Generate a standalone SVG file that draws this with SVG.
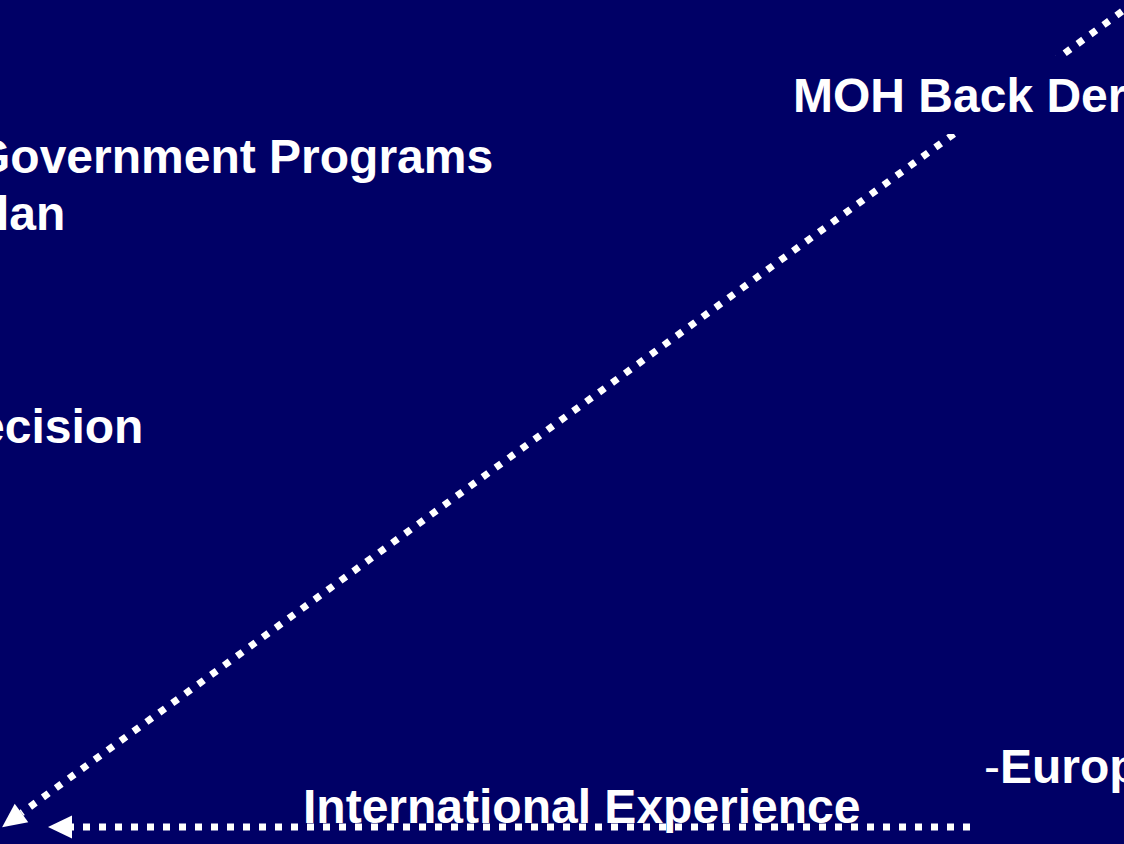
<svg xmlns="http://www.w3.org/2000/svg" width="1124" height="844" viewBox="0 0 1124 844">
<style>
.t{font-family:"Liberation Sans",Arial,sans-serif;font-weight:bold;font-size:48px;fill:#ffffff}
.r{font-weight:normal}
.c{fill:none;stroke:#ffffff;stroke-width:7;stroke-dasharray:7 9}
</style>
<defs>
<marker id="ah" markerUnits="userSpaceOnUse" markerWidth="25" markerHeight="24" refX="0" refY="11.5" orient="auto" overflow="visible">
<path d="M0,0 L24,11.5 L0,23 Z" fill="#ffffff"/>
</marker>
</defs>
<rect width="1124" height="844" fill="#000066"/>
<g id="connectors">
<path class="c" d="M1135,2 L21.5,813" marker-end="url(#ah)"/>
<path class="c" d="M970,827 L72,827" marker-end="url(#ah)"/>
</g>
<g id="moh">
<rect x="780" y="56" width="344" height="78" fill="#000066"/>
<text class="t" x="793" y="112">MOH Back Der</text>
</g>
<g id="government">
<text class="t" x="-27" y="173">Government Programs</text>
<text class="t" x="-4" y="230">lan</text>
</g>
<g id="decision">
<text class="t" x="-22" y="443">ecision</text>
</g>
<g id="europe">
<text class="t" x="984" y="783"><tspan class="r">-</tspan>Europ</text>
</g>
<g id="international">
<text class="t" x="303" y="823">International Experience</text>
</g>
</svg>
